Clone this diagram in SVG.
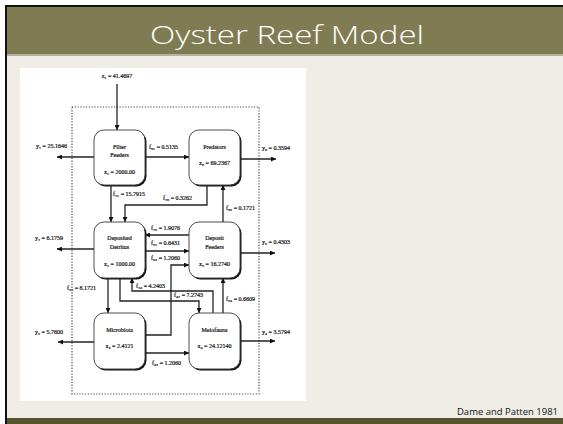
<svg xmlns="http://www.w3.org/2000/svg" width="563" height="424" viewBox="0 0 563 424">
<style>
.sh{fill:#151515}
.node{fill:#fff;stroke:#3a3a3a;stroke-width:0.9}
.t{font-family:"Liberation Serif","DejaVu Serif",serif;font-size:6px;fill:#111;stroke:#111;stroke-width:0.2;text-anchor:middle}
.l{font-family:"Liberation Serif","DejaVu Serif",serif;font-size:6px;fill:#111;stroke:#111;stroke-width:0.2}
.c{fill:none;stroke:#222;stroke-width:1.3}
</style>
<defs>
<marker id="ah" viewBox="0 0 10 10" refX="10" refY="5" markerUnits="userSpaceOnUse" markerWidth="6" markerHeight="5" orient="auto">
<path d="M0,0 L10,5 L0,10 z" fill="#111"/>
</marker>
</defs>
<!-- slide frame -->
<rect x="0" y="0" width="563" height="424" fill="#fff"/>
<rect x="5" y="5" width="558" height="419" fill="#111"/>
<rect x="7" y="7" width="556" height="417" fill="#efede6"/>
<rect x="7" y="7" width="556" height="47" fill="#7f7c53"/>
<rect x="7" y="54" width="556" height="2" fill="#b5b2a0"/>
<rect x="7" y="418" width="556" height="6" fill="#56532f"/>
<text x="287" y="44" font-family="'Open Sans','DejaVu Sans',sans-serif" font-size="26" font-weight="300" fill="#fff" text-anchor="middle" textLength="274" lengthAdjust="spacingAndGlyphs">Oyster Reef Model</text>
<text x="558" y="415" font-family="'Open Sans','Liberation Sans',sans-serif" font-size="9" fill="#111" text-anchor="end" textLength="101" lengthAdjust="spacingAndGlyphs">Dame and Patten 1981</text>
<!-- figure -->
<rect x="20" y="68" width="286" height="333" fill="#fff"/>
<rect x="72" y="107" width="187" height="287" fill="none" stroke="#444" stroke-width="1.2" stroke-dasharray="1.2 1.6"/>

<g id="connectors">
<path class="c" d="M117,84 V130" marker-end="url(#ah)"/>
<path class="c" d="M94,157 H57" marker-end="url(#ah)"/>
<path class="c" d="M145,157 H189" marker-end="url(#ah)"/>
<path class="c" d="M240,159 H276" marker-end="url(#ah)"/>
<path class="c" d="M111,185 V222" marker-end="url(#ah)"/>
<path class="c" d="M207,185 V205 H125 V222" marker-end="url(#ah)"/>
<path class="c" d="M223,222 V185" marker-end="url(#ah)"/>
<path class="c" d="M94,249 H57" marker-end="url(#ah)"/>
<path class="c" d="M189,235 H145" marker-end="url(#ah)"/>
<path class="c" d="M145,251 H189" marker-end="url(#ah)"/>
<path class="c" d="M240,253 H275" marker-end="url(#ah)"/>
<path class="c" d="M145,335 H171 V265 H189" marker-end="url(#ah)"/>
<path class="c" d="M108,278 V313" marker-end="url(#ah)"/>
<path class="c" d="M213,313 V291 H132 V278" marker-end="url(#ah)"/>
<path class="c" d="M120,278 V301 H199 V313" marker-end="url(#ah)"/>
<path class="c" d="M223,313 V278" marker-end="url(#ah)"/>
<path class="c" d="M94,342 H58" marker-end="url(#ah)"/>
<path class="c" d="M240,341 H275" marker-end="url(#ah)"/>
<path class="c" d="M145,353 H189" marker-end="url(#ah)"/>
</g>

<g id="connector-labels">
<text class="t" x="117" y="78">z₁ = 41.4697</text>
<text class="l" x="36" y="148">y₁ = 25.1646</text>
<text class="l" x="149" y="149">f₆₁ = 0.5135</text>
<text class="l" x="262" y="150">y₆ = 0.3594</text>
<text class="l" x="113" y="196">f₂₁ = 15.7915</text>
<text class="l" x="163" y="200">f₂₆ = 0.3262</text>
<text class="l" x="226" y="210">f₆₅ = 0.1721</text>
<text class="l" x="35" y="240">y₂ = 6.1759</text>
<text class="l" x="151" y="230">f₂₅ = 1.9076</text>
<text class="l" x="151" y="245">f₅₂ = 0.6431</text>
<text class="l" x="151" y="260">f₅₃ = 1.2060</text>
<text class="l" x="262" y="244">y₅ = 0.4303</text>
<text class="l" x="67" y="290">f₃₂ = 8.1721</text>
<text class="l" x="136" y="288">f₂₄ = 4.2403</text>
<text class="l" x="174" y="297">f₄₂ = 7.2743</text>
<text class="l" x="226" y="301">f₅₄ = 0.6609</text>
<text class="l" x="35" y="334">y₃ = 5.7600</text>
<text class="l" x="262" y="334">y₄ = 3.5794</text>
<text class="l" x="152" y="365">f₄₃ = 1.2060</text>
</g>

<g id="filter-feeders">
<rect class="sh" x="95.5" y="131.5" width="51" height="55" rx="10"/>
<rect class="node" x="94" y="130" width="51" height="55" rx="10"/>
<text class="t" x="119.5" y="149">Filter</text>
<text class="t" x="119.5" y="156.5">Feeders</text>
<text class="t" x="119.5" y="174">x₁ = 2000.00</text>
</g>
<g id="predators">
<rect class="sh" x="190.5" y="131.5" width="51" height="55" rx="10"/>
<rect class="node" x="189" y="130" width="51" height="55" rx="10"/>
<text class="t" x="214.5" y="149">Predators</text>
<text class="t" x="214.5" y="165">x₆ = 69.2367</text>
</g>
<g id="deposited-detritus">
<rect class="sh" x="95.5" y="223.5" width="51" height="56" rx="10"/>
<rect class="node" x="94" y="222" width="51" height="56" rx="10"/>
<text class="t" x="119.5" y="240">Deposited</text>
<text class="t" x="119.5" y="249">Detritus</text>
<text class="t" x="119.5" y="266">x₂ = 1000.00</text>
</g>
<g id="deposit-feeders">
<rect class="sh" x="190.5" y="223.5" width="51" height="56" rx="10"/>
<rect class="node" x="189" y="222" width="51" height="56" rx="10"/>
<text class="t" x="214.5" y="240">Deposit</text>
<text class="t" x="214.5" y="249">Feeders</text>
<text class="t" x="214.5" y="266">x₅ = 16.2740</text>
</g>
<g id="microbiota">
<rect class="sh" x="95.5" y="314.5" width="51" height="56" rx="10"/>
<rect class="node" x="94" y="313" width="51" height="56" rx="10"/>
<text class="t" x="119.5" y="332">Microbiota</text>
<text class="t" x="119.5" y="348">x₃ = 2.4121</text>
</g>
<g id="meiofauna">
<rect class="sh" x="190.5" y="314.5" width="51" height="56" rx="10"/>
<rect class="node" x="189" y="313" width="51" height="56" rx="10"/>
<text class="t" x="214.5" y="332">Meiofauna</text>
<text class="t" x="214.5" y="348">x₄ = 24.12140</text>
</g>
</svg>
